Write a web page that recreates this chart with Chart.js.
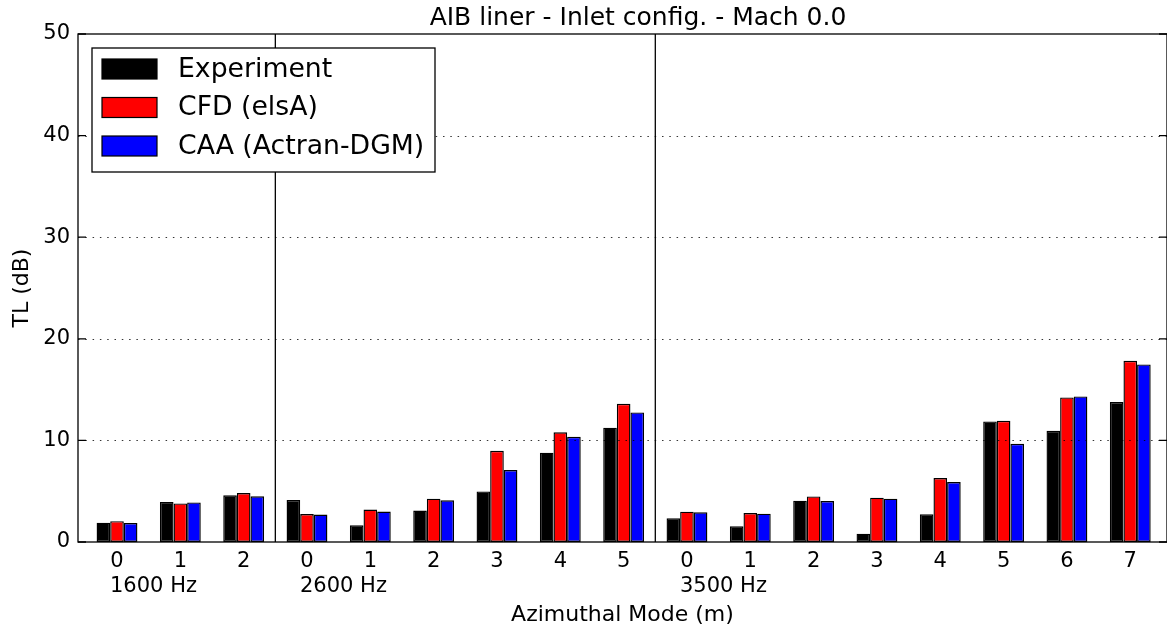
<!DOCTYPE html>
<html>
<head>
<meta charset="utf-8">
<title>AIB liner - Inlet config. - Mach 0.0</title>
<script src="https://cdn.jsdelivr.net/npm/chart.js@4.4.1/dist/chart.umd.min.js"></script>
<style>
  html, body { margin: 0; padding: 0; background: #fff; }
  #wrap { width: 1167px; height: 632px; }
</style>
</head>
<body>
<div id="wrap"><canvas id="tlChart" width="1167" height="632"></canvas></div>
<script>
// frequencies and the azimuthal modes measured at each one
const frequencies = ['1600 Hz', '2600 Hz', '3500 Hz'];
const modes1600 = [0, 1, 2];
const modes2600 = [0, 1, 2, 3, 4, 5];
const modes3500 = [0, 1, 2, 3, 4, 5, 6, 7];

// transmission loss in dB, one value per (frequency, mode) in the order above
const experiment = [1.9, 3.94, 4.6, 4.13, 1.64, 3.1, 4.98, 8.79, 11.25, 2.33, 1.54, 4.07, 0.82, 2.72, 11.87, 10.95, 13.77];
const cfdElsA = [2.05, 3.8, 4.82, 2.75, 3.2, 4.26, 8.98, 10.79, 13.6, 2.98, 2.85, 4.49, 4.36, 6.3, 11.93, 14.23, 17.84];
const caaActran = [1.87, 3.9, 4.5, 2.7, 3.0, 4.1, 7.08, 10.36, 12.75, 2.92, 2.79, 4.03, 4.26, 5.9, 9.67, 14.33, 17.48];

const yTicks = [0, 10, 20, 30, 40, 50];

const modeGroups = [modes1600, modes2600, modes3500];
const modeLabels = [].concat(...modeGroups);

// index of the first bar of every frequency block
const groupStarts = [];
let acc = 0;
modeGroups.forEach(g => { groupStarts.push(acc); acc += g.length; });

const FONT = "'DejaVu Sans', sans-serif";
Chart.defaults.font.family = FONT;
Chart.defaults.color = '#000';

const toPoints = vals => vals.map((v, i) => ({ x: i, y: v }));

// title, grid, frame, block separators, frequency labels and legend
const decorations = {
    id: 'decorations',
    afterDatasetsDraw(chart) {
        const { ctx, chartArea: a, scales: { x, y } } = chart;
        ctx.save();

        // dotted grid over the bars
        ctx.strokeStyle = '#000';
        ctx.lineWidth = 0.8;
        ctx.setLineDash([1.5, 5.8]);
        yTicks.slice(1, -1).forEach(t => {
            const py = Math.round(y.getPixelForValue(t)) + 0.5;
            ctx.beginPath();
            ctx.moveTo(a.left, py);
            ctx.lineTo(a.right, py);
            ctx.stroke();
        });
        ctx.setLineDash([]);

        // vertical lines between frequency blocks
        ctx.lineWidth = 1.3;
        groupStarts.slice(1).forEach(s => {
            const px = x.getPixelForValue(s - 0.5);
            ctx.beginPath();
            ctx.moveTo(px, a.top);
            ctx.lineTo(px, a.bottom);
            ctx.stroke();
        });

        // frame and inward tick marks
        ctx.strokeRect(a.left, a.top, a.right - a.left, a.bottom - a.top);
        yTicks.forEach(t => {
            const py = y.getPixelForValue(t);
            ctx.beginPath();
            ctx.moveTo(a.left, py);
            ctx.lineTo(a.left + 8, py);
            ctx.moveTo(a.right, py);
            ctx.lineTo(a.right - 8, py);
            ctx.stroke();
        });

        // frequency names below the first mode of each block
        ctx.fillStyle = '#000';
        ctx.font = '21px ' + FONT;
        ctx.textAlign = 'left';
        ctx.textBaseline = 'middle';
        groupStarts.forEach((s, i) => {
            ctx.fillText(frequencies[i], x.getPixelForValue(s) - 7, 587);
        });

        // title
        ctx.font = '25px ' + FONT;
        ctx.textAlign = 'center';
        ctx.textBaseline = 'alphabetic';
        ctx.fillText('AIB liner - Inlet config. - Mach 0.0', 638, 25);

        // legend box in the upper left corner
        const lx = a.left + 14, ly = a.top + 14, lw = 343, lh = 124;
        ctx.fillStyle = '#fff';
        ctx.fillRect(lx, ly, lw, lh);
        ctx.lineWidth = 1.3;
        ctx.strokeRect(lx, ly, lw, lh);
        ctx.font = '26.7px ' + FONT;
        ctx.textAlign = 'left';
        ctx.textBaseline = 'middle';
        chart.data.datasets.forEach((ds, i) => {
            const cy = ly + 21 + i * 38.5;
            ctx.fillStyle = ds.backgroundColor;
            ctx.fillRect(lx + 10, cy - 10, 55, 20);
            ctx.lineWidth = 1.2;
            ctx.strokeRect(lx + 10, cy - 10, 55, 20);
            ctx.fillStyle = '#000';
            ctx.fillText(ds.label, lx + 86, cy + 1);
        });

        ctx.restore();
    }
};

const barStyle = { borderColor: '#000', borderWidth: 1.4, borderSkipped: false };

const ctx = document.getElementById('tlChart').getContext('2d');
const tlChart = new Chart(ctx, {
    type: 'bar',
    data: {
        datasets: [
            Object.assign({ label: 'Experiment', data: toPoints(experiment), backgroundColor: '#000000' }, barStyle),
            Object.assign({ label: 'CFD (elsA)', data: toPoints(cfdElsA), backgroundColor: '#ff0000' }, barStyle),
            Object.assign({ label: 'CAA (Actran-DGM)', data: toPoints(caaActran), backgroundColor: '#0000ff' }, barStyle)
        ]
    },
    options: {
        responsive: false,
        animation: false,
        layout: { padding: { top: 34, right: 0, bottom: 0, left: 0 } },
        datasets: { bar: { categoryPercentage: 0.645, barPercentage: 1.0 } },
        plugins: {
            legend: { display: false },
            tooltip: { enabled: false }
        },
        scales: {
            x: {
                type: 'linear',
                offset: false,
                min: -0.616,
                max: 16.58,
                grid: { display: false, drawTicks: false, offset: false },
                border: { display: false },
                afterBuildTicks: scale => {
                    scale.ticks = modeLabels.map((m, i) => ({ value: i }));
                },
                ticks: {
                    autoSkip: false,
                    maxRotation: 0,
                    padding: 7,
                    font: { size: 21 },
                    callback: value => modeLabels[value]
                },
                title: {
                    display: true,
                    text: 'Azimuthal Mode (m)',
                    font: { size: 22 },
                    padding: { top: 0, bottom: 4 }
                },
                afterFit: scale => { scale.height = 90; }
            },
            y: {
                min: 0,
                max: 50,
                grid: { display: false, drawTicks: false },
                border: { display: false },
                afterBuildTicks: scale => {
                    scale.ticks = yTicks.map(v => ({ value: v }));
                },
                ticks: {
                    padding: 8,
                    font: { size: 21 }
                },
                title: {
                    display: true,
                    text: 'TL (dB)',
                    font: { size: 22 },
                    padding: { top: 9, bottom: 0 }
                },
                afterFit: scale => { scale.width = 78; }
            }
        }
    },
    plugins: [decorations]
});
</script>
</body>
</html>
